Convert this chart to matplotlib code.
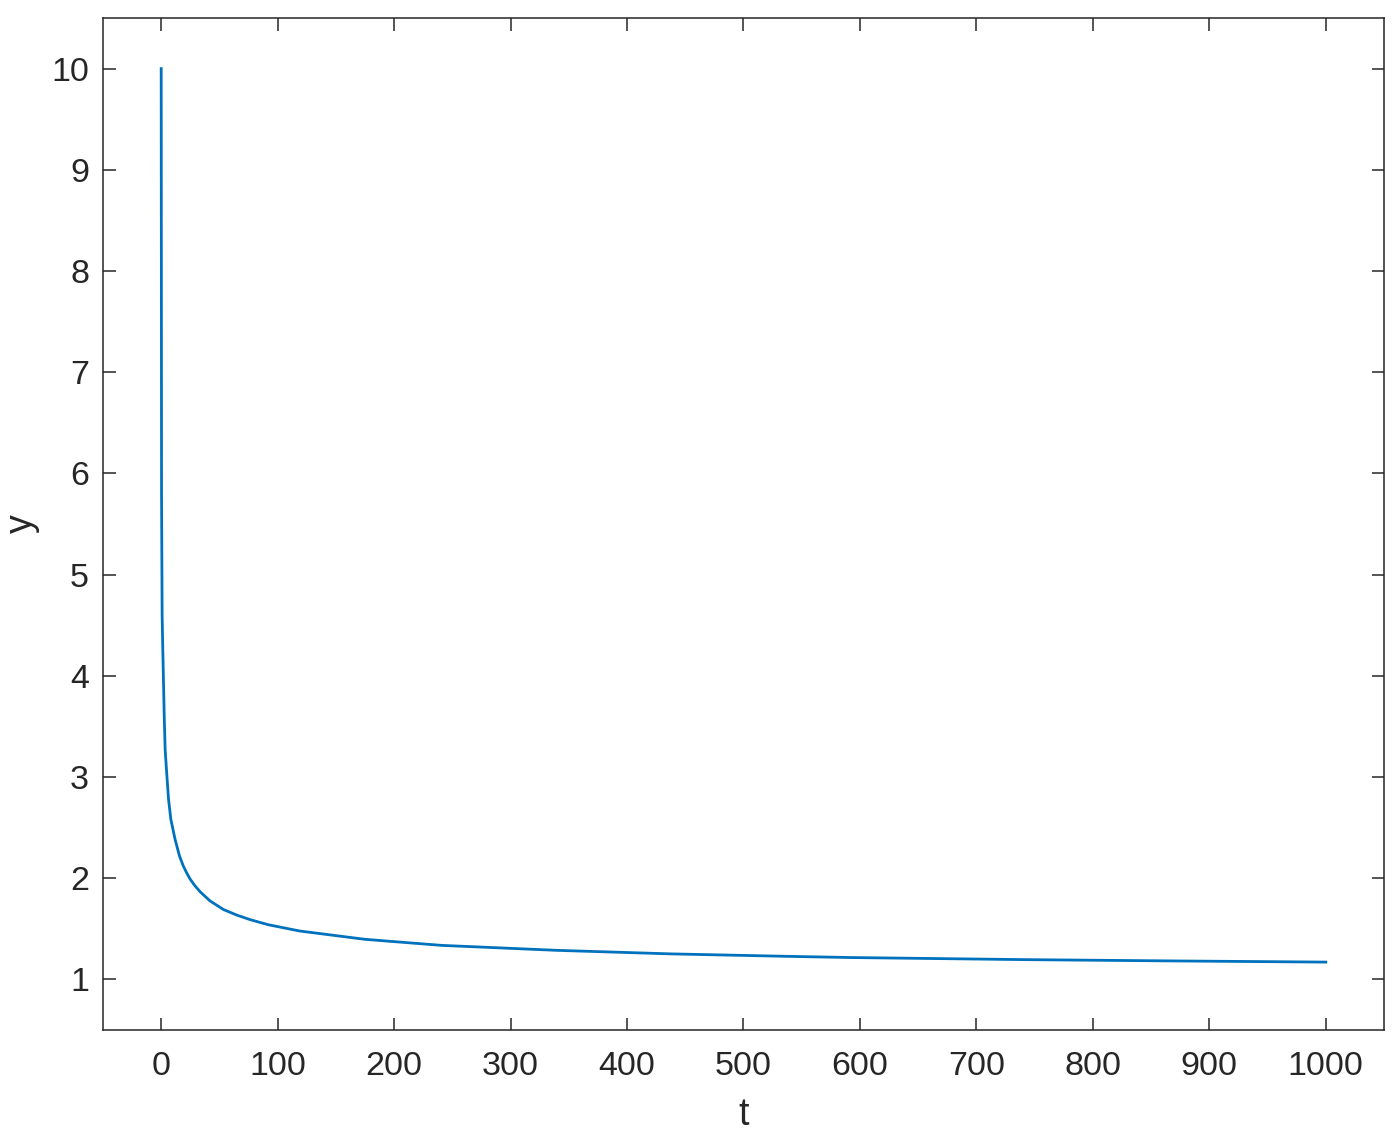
import matplotlib
matplotlib.use('Agg')
import matplotlib.pyplot as plt

# values
t = [0, 0.3, 0.8, 1.3, 2.0, 2.6, 3.4, 4.9, 6.3, 8.3, 12, 15.7, 19, 22, 24.9, 29, 33.5,
     42, 53.5, 65, 76.5, 92, 119, 175, 241, 340, 438, 537, 592, 744, 874, 1000]
y = [10, 5.8, 4.6, 4.3, 3.93, 3.6, 3.27, 3.01, 2.78, 2.58, 2.38, 2.22, 2.12, 2.05, 1.99, 1.925, 1.865,
     1.775, 1.69, 1.635, 1.59, 1.54, 1.478, 1.396, 1.336, 1.287, 1.252, 1.228, 1.216, 1.195, 1.182, 1.171]

plt.rcParams['font.family'] = ['Liberation Sans', 'DejaVu Sans']
dark = '#262626'

fig = plt.figure(figsize=(13.99, 11.39), dpi=100)
ax = fig.add_axes([0.0736, 0.0957, 0.9157, 0.8885])
ax.plot(t, y, color='#0072BD', linewidth=2.0, solid_joinstyle='round')

ax.set_xlim(-50, 1050)
ax.set_ylim(0.5, 10.5)
ax.set_xticks(range(0, 1001, 100))
ax.set_yticks(range(1, 11))
ax.tick_params(direction='in', length=9, width=1.1, colors=dark, labelsize=24.5,
               top=True, right=True)
ax.tick_params(axis='x', pad=15)
ax.tick_params(axis='y', pad=10)
for s in ax.spines.values():
    s.set_color(dark)
    s.set_linewidth(1.1)
ax.set_xlabel('t', fontsize=27, color=dark, labelpad=11)
ax.set_ylabel('y', fontsize=27, color=dark, labelpad=8)

fig.savefig('out.png', dpi=100)
